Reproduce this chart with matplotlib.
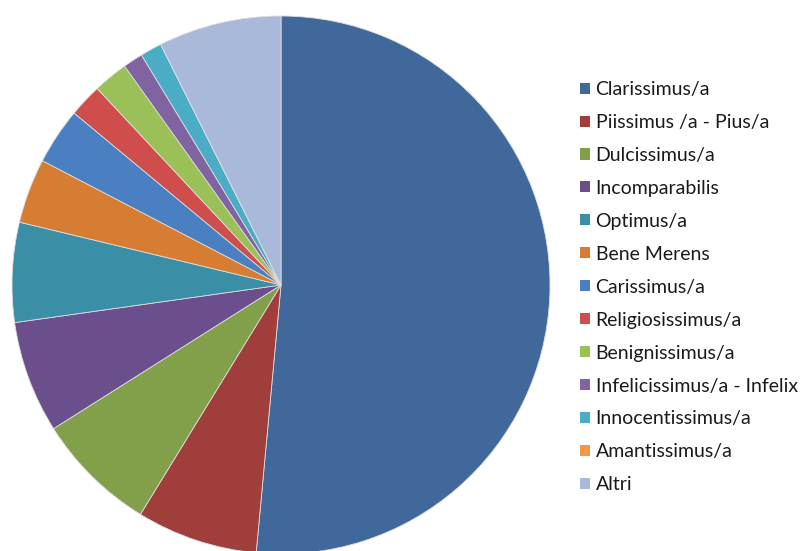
import matplotlib
matplotlib.use("Agg")
import matplotlib.pyplot as plt
from matplotlib.patches import Patch

labels = ["Clarissimus/a", "Piissimus /a - Pius/a", "Dulcissimus/a", "Incomparabilis",
          "Optimus/a", "Bene Merens", "Carissimus/a", "Religiosissimus/a",
          "Benignissimus/a", "Infelicissimus/a - Infelix", "Innocentissimus/a",
          "Amantissimus/a", "Altri"]
values = [51.6, 7.3, 7.3, 6.75, 6.0, 3.9, 3.4, 2.0, 2.1, 1.2, 1.3, 0.0, 7.4]
colors = ["#41689A", "#A03E3B", "#82A04A", "#6B4F8C", "#3A8FA6", "#D67D33",
          "#4A7FC1", "#CF4E4C", "#9BC058", "#8064A2", "#4BACC6", "#F79646", "#A9B9D9"]

plt.rcParams['font.family'] = ['Lato', 'DejaVu Sans']

fig = plt.figure(figsize=(8.04, 5.51), dpi=100)
ax = fig.add_axes([12/804, -3/551, 538/804, 538/551])
wedges, _ = ax.pie(values, colors=colors, startangle=90, counterclock=False,
                   wedgeprops=dict(linewidth=0.6, edgecolor="#dddddd"))
for w in wedges:
    w.set_clip_on(False)
ax.set_aspect('equal')
ax.set_xlim(-1, 1)
ax.set_ylim(-1, 1)
ax.axis('off')

handles = [Patch(facecolor=c, edgecolor='none') for c in colors]
leg = fig.legend(handles, labels, loc='upper left', bbox_to_anchor=(580/804, 1 - 81/551),
                 frameon=False, fontsize=14, handlelength=0.5, handleheight=0.5,
                 handletextpad=0.3, labelspacing=0.82, borderaxespad=0, borderpad=0)
for t in leg.get_texts():
    t.set_color("#1a1a1a")

fig.savefig("out.png", dpi=100)
